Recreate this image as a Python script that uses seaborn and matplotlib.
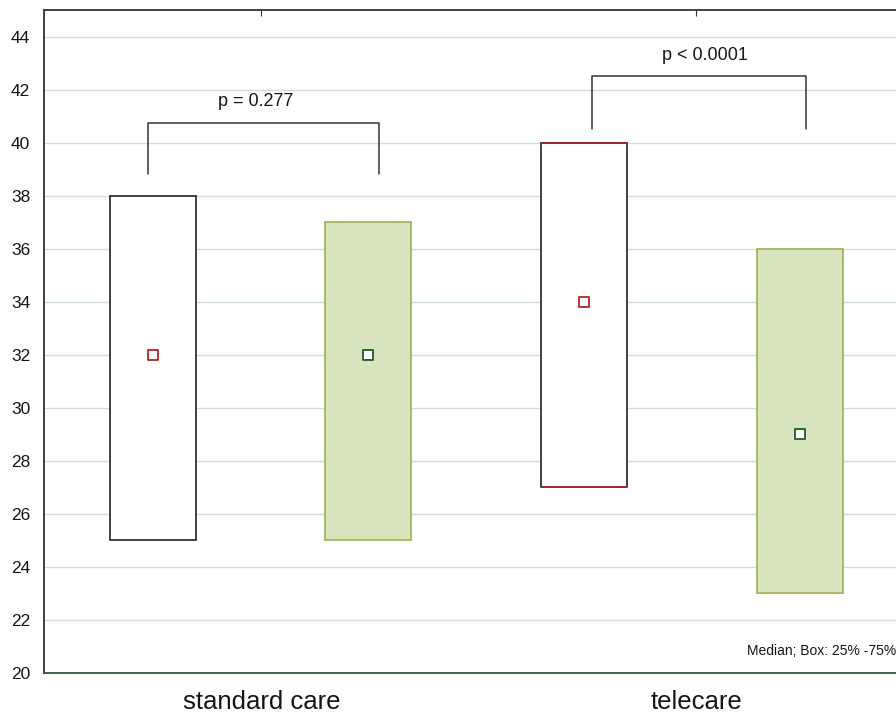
import matplotlib
matplotlib.use("Agg")
import matplotlib.pyplot as plt
import seaborn as sns
import pandas as pd

# Groups and box statistics
groups = ["standard care", "telecare"]
series = ["control", "intervention"]
medians = [32, 32, 34, 29]
q1 = [25, 25, 27, 23]
q3 = [38, 37, 40, 36]
group_idx = [0, 0, 1, 1]
series_idx = [0, 1, 0, 1]

# p-value brackets: label, bar height, leg bottom
p_labels = ["p = 0.277", "p < 0.0001"]
p_bar_y = [40.75, 42.5]
p_leg_y = [38.8, 40.5]

sns.set_style("white")
plt.rcParams["font.family"] = ["Liberation Sans", "DejaVu Sans"]
plt.rcParams["text.color"] = "#151515"
plt.rcParams["xtick.color"] = "#151515"
plt.rcParams["ytick.color"] = "#151515"

fig = plt.figure(figsize=(8.96, 7.13), dpi=100)
ax = fig.add_axes([44 / 896, 40 / 713, 869.5 / 896, 663 / 713])

width = 0.198
face = ["white", "#d7e4bd"]
edge = ["#222222", "#9fae58"]
med_edge = ["#b02424", "#1f5a2c"]

df = pd.DataFrame({"group": group_idx, "series": series_idx,
                   "median": medians, "q1": q1, "q3": q3})
# boxes evenly spaced, slightly tighter than the category spacing
df["x"] = df["group"] * 0.993 + (df["series"] - 0.5) * 0.4966 - 0.002

# grid
for v in range(22, 46, 2):
    ax.axhline(v, color="#cfe0cf", lw=1.0, zorder=0)

for _, r in df.iterrows():
    s = int(r["series"])
    ax.bar(r["x"], r["q3"] - r["q1"], bottom=r["q1"], width=width,
           color=face[s], edgecolor=edge[s], linewidth=1.2, zorder=2)
    # telecare control box has reddish top/bottom edges
    if s == 0 and r["group"] == 1:
        ax.hlines([r["q1"], r["q3"]], r["x"] - width / 2, r["x"] + width / 2,
                  color="#a82828", lw=1.2, zorder=2.5)

for s in range(2):
    sub = df[df["series"] == s]
    sns.scatterplot(x=sub["x"], y=sub["median"], marker="s", s=55,
                    facecolor="white", edgecolor=med_edge[s], linewidth=1.3,
                    ax=ax, zorder=3)

# brackets
bracket_l = [-0.26, 0.761]
bracket_r = [0.271, 1.253]
text_x = [-0.013, 1.02]
for g in range(2):
    xl, xr = bracket_l[g], bracket_r[g]
    ax.plot([xl, xl, xr, xr], [p_leg_y[g], p_bar_y[g], p_bar_y[g], p_leg_y[g]],
            color="#333333", lw=1.1, zorder=3)
    ax.text(text_x[g], p_bar_y[g] + 0.8, p_labels[g], ha="center",
            va="center", fontsize=13)

ax.text(1.117, 20.83, "Median; Box: 25% -75%", ha="left", va="center",
        fontsize=10)

ax.set_xlim(-0.5, 1.5)
ax.set_ylim(20, 45)
ax.set_xticks([0, 1])
ax.set_xticklabels(groups, fontsize=18.5)
ax.set_yticks(range(20, 46, 2))
ax.set_yticklabels([str(v) for v in range(20, 46, 2)], fontsize=12.5)
ax.tick_params(axis="x", direction="in", top=True, length=4, pad=12,
               color="#333333")
ax.tick_params(axis="y", length=0, pad=10)
ax.set_xlabel("")
ax.set_ylabel("")

for side in ["left", "top", "right"]:
    ax.spines[side].set_color("#333333")
    ax.spines[side].set_linewidth(1.3)
ax.spines["bottom"].set_color("#2c5a3c")
ax.spines["bottom"].set_linewidth(1.3)

fig.savefig("out.png", dpi=100)
